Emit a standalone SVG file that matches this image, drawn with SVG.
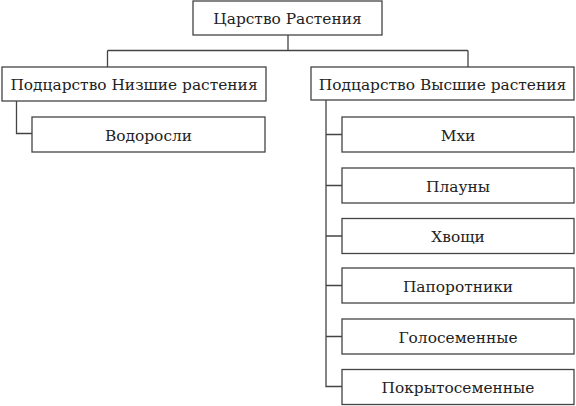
<svg xmlns="http://www.w3.org/2000/svg" width="576" height="406" viewBox="0 0 576 406">
<style>
.box{fill:#fff;stroke:#444;stroke-width:1.3}
.ln{fill:none;stroke:#444;stroke-width:1.3}
.t{font-family:"DejaVu Serif",serif;font-size:15.4px;fill:#222;text-anchor:middle}
</style>
<rect width="576" height="406" fill="#fff"/>
<g id="connectors">
<path class="ln" d="M288 35V50.5M107.5 50.5H468M107.5 50.5V67M468 50.5V67"/>
<path class="ln" d="M16.5 101V133.5H32"/>
<path class="ln" d="M326 100V386.5H342M326 134.5H342M326 185.5H342M326 236H342M326 285.5H342M326 336.5H342"/>
</g>
<g id="root"><rect class="box" x="193" y="1" width="189" height="34"/><text class="t" x="287.5" y="24">Царство Растения</text></g>
<g id="low"><rect class="box" x="2" y="67" width="264" height="34"/><text class="t" x="134" y="90">Подцарство Низшие растения</text></g>
<g id="high"><rect class="box" x="311" y="67" width="263" height="33"/><text class="t" x="442.5" y="90">Подцарство Высшие растения</text></g>
<g id="algae"><rect class="box" x="32" y="117" width="233" height="35"/><text class="t" x="148.5" y="140.5">Водоросли</text></g>
<g id="mosses"><rect class="box" x="342" y="117" width="232" height="35"/><text class="t" x="458" y="140.5">Мхи</text></g>
<g id="lycopods"><rect class="box" x="342" y="168" width="232" height="35"/><text class="t" x="458" y="191.5">Плауны</text></g>
<g id="horsetails"><rect class="box" x="342" y="218.5" width="232" height="35"/><text class="t" x="458" y="242">Хвощи</text></g>
<g id="ferns"><rect class="box" x="342" y="268" width="232" height="35"/><text class="t" x="458" y="291.5">Папоротники</text></g>
<g id="gymnosperms"><rect class="box" x="342" y="319" width="232" height="35"/><text class="t" x="458" y="342.5">Голосеменные</text></g>
<g id="angiosperms"><rect class="box" x="342" y="369.5" width="232" height="35"/><text class="t" x="458" y="393">Покрытосеменные</text></g>
</svg>
